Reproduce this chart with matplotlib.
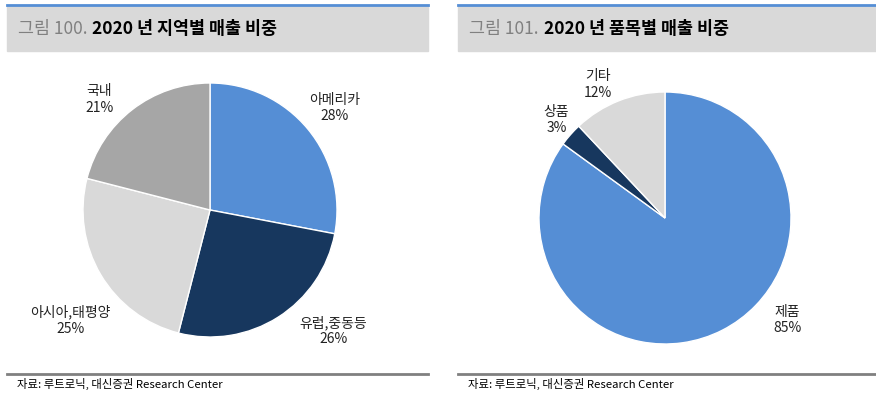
import matplotlib
matplotlib.use("Agg")
import matplotlib.pyplot as plt
from matplotlib.patches import Rectangle
from matplotlib.lines import Line2D

plt.rcParams['font.family'] = ['Noto Sans CJK KR', 'DejaVu Sans']

# data
region_labels = ['아메리카', '유럽,중동등', '아시아,태평양', '국내']
region_values = [28, 26, 25, 21]
product_labels = ['제품', '상품', '기타']
product_values = [85, 3, 12]

region_colors = ['#558ED5', '#17375E', '#D9D9D9', '#A6A6A6']
product_colors = ['#558ED5', '#17375E', '#D9D9D9']

# label spots (pie radius = 1), like Excel's outside-end placement
region_lpos = [(0.98, 0.80), (0.97, -0.95), (-1.10, -0.87), (-0.87, 0.87)]
product_lpos = [(0.97, -0.81), (-0.86, 0.78), (-0.53, 1.06)]

W, H = 876, 396
fig = plt.figure(figsize=(W / 100, H / 100), dpi=100)


def px(x, y):
    return x / W, 1 - y / H


def panel(x0, x1, num, title, footer):
    # gray title band + blue rule on top
    fig.patches.append(Rectangle(px(x0, 51), (x1 - x0) / W, 45 / H,
                                 transform=fig.transFigure, color='#D9D9D9', zorder=0))
    fig.lines.append(Line2D([x0 / W, x1 / W], [1 - 5 / H] * 2, transform=fig.transFigure,
                            color='#558ED5', lw=2))
    tx, ty = px(x0 + 11, 29)
    t = fig.text(tx, ty, num, color='#808080', fontsize=12.5, va='center')
    fig.canvas.draw()
    bb = t.get_window_extent()
    fig.text(bb.x1 / W + 5 / W, ty, title, color='black', fontsize=12.5,
             fontweight='bold', va='center')
    # footer
    fig.lines.append(Line2D([x0 / W, x1 / W], [1 - 374 / H] * 2, transform=fig.transFigure,
                            color='#808080', lw=2))
    fx, fy = px(x0 + 10, 384)
    fig.text(fx, fy, footer, fontsize=8.2, va='center', color='black')


panel(7, 428, '그림 100.', '2020 년 지역별 매출 비중', '자료: 루트로닉, 대신증권 Research Center')
panel(458, 876, '그림 101.', '2020 년 품목별 매출 비중', '자료: 루트로닉, 대신증권 Research Center')


def draw_pie(cx, cy, r, values, colors, labels, lpos):
    ax = fig.add_axes([(cx - r) / W, 1 - (cy + r) / H, 2 * r / W, 2 * r / H])
    ax.pie(values, colors=colors, startangle=90, counterclock=False,
           wedgeprops=dict(edgecolor='white', linewidth=1))
    ax.set_xlim(-1, 1)
    ax.set_ylim(-1, 1)
    ax.set_aspect('equal')
    ax.axis('off')
    total = sum(values)
    for lab, v, (lx, ly) in zip(labels, values, lpos):
        ax.text(lx, ly, f'{lab}\n{round(100 * v / total)}%', ha='center', va='center',
                fontsize=10, linespacing=1.2, color='#222222', clip_on=False)


draw_pie(210, 210, 127, region_values, region_colors, region_labels, region_lpos)
draw_pie(665, 218, 126, product_values, product_colors, product_labels, product_lpos)

fig.savefig('out.png', dpi=100)
